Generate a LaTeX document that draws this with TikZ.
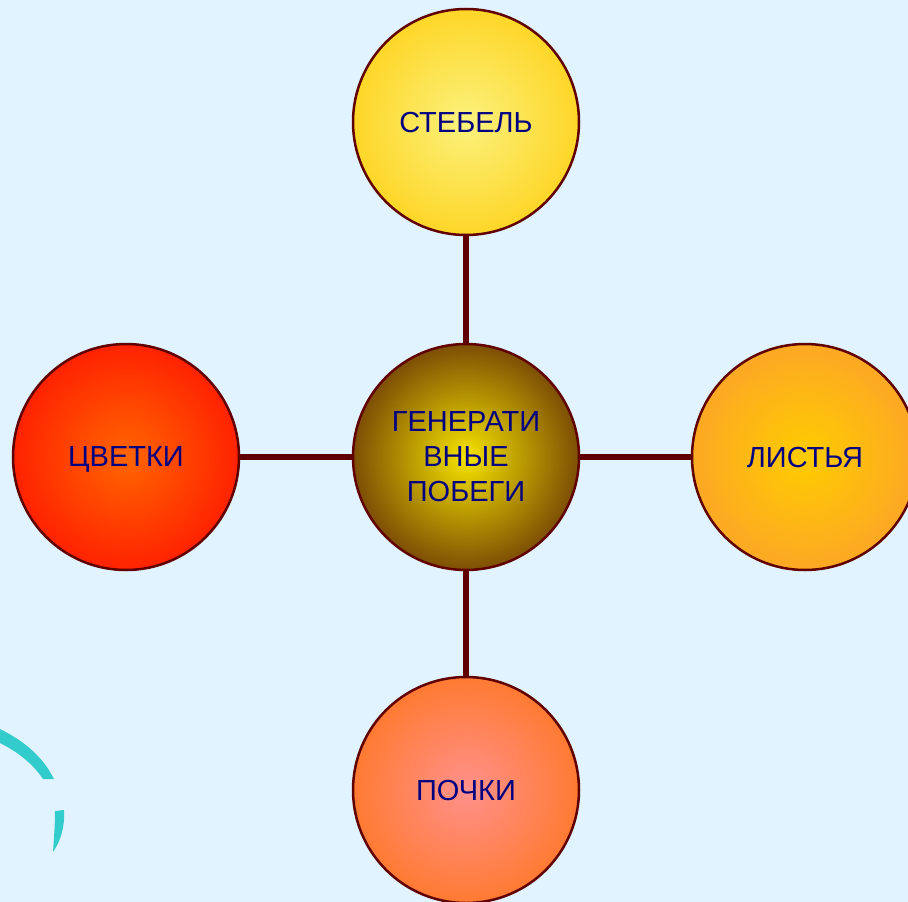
\documentclass[tikz,border=0pt]{standalone}
\usepackage{fontspec}
\setmainfont{Liberation Sans}
\definecolor{slidebg}{RGB}{225,243,254}
\definecolor{rimred}{RGB}{96,0,0}
\definecolor{labelblue}{RGB}{0,0,128}
\definecolor{swoosh}{RGB}{51,204,204}
\tikzset{
  ball/.style={draw=rimred,line width=2.5pt,shape=circle,minimum size=226pt,inner sep=0pt,
    align=center,text=labelblue,font=\fontsize{29}{35}\selectfont},
  flat/.style={text depth=0pt},
  link/.style={draw=rimred,line width=6pt}
}
\begin{document}
\begin{tikzpicture}[x=1pt,y=-1pt]
   \useasboundingbox (0,0) rectangle (908,902);
   \fill[slidebg] (0,0) rectangle (908,902);
   \fill[swoosh] (0,729) .. controls (22,740) and (42,755) .. (54,779) -- (43,779)
     .. controls (33,764) and (18,752) .. (0,743) -- cycle;
   \fill[swoosh] (55,811) -- (64,810) .. controls (65,828) and (60,842) .. (53,852)
     .. controls (54,838) and (55,825) .. (55,811) -- cycle;
   \path (466,457) node[ball,inner color={rgb,255:red,245;green,228;blue,0},outer color={rgb,255:red,125;green,78;blue,5}] (gen)
     {ГЕНЕРАТИ\\ВНЫЕ\\ПОБЕГИ};
   \path (466,122) node[ball,flat,inner color={rgb,255:red,251;green,242;blue,125},outer color={rgb,255:red,254;green,214;blue,40}] (stem)
     {СТЕБЕЛЬ};
   \path (126,457) node[ball,flat,inner color={rgb,255:red,255;green,102;blue,0},outer color={rgb,255:red,255;green,34;blue,0}] (flow)
     {ЦВЕТКИ};
   \path (805,457) node[ball,flat,inner color={rgb,255:red,255;green,204;blue,0},outer color={rgb,255:red,252;green,168;blue,36}] (leaf)
     {ЛИСТЬЯ};
   \path (466,790) node[ball,flat,inner color={rgb,255:red,255;green,145;blue,140},outer color={rgb,255:red,255;green,122;blue,50}] (bud)
     {ПОЧКИ};
   \draw[link] (gen) -- (stem);
   \draw[link] (gen) -- (flow);
   \draw[link] (gen) -- (leaf);
   \draw[link] (gen) -- (bud);
\end{tikzpicture}
\end{document}
